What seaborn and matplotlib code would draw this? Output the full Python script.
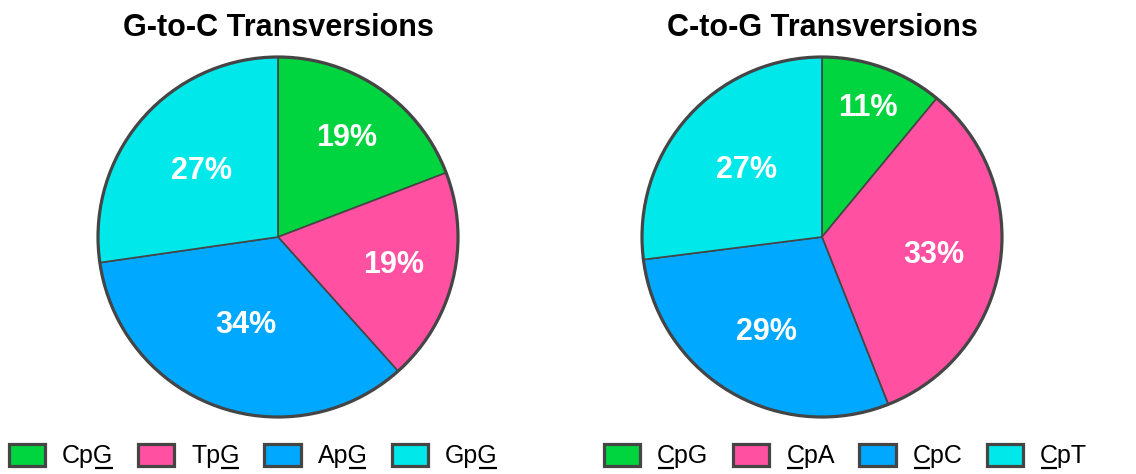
import numpy as np
import matplotlib
matplotlib.use("Agg")
import matplotlib.pyplot as plt
import seaborn as sns
from matplotlib.patches import Circle
from matplotlib.lines import Line2D

# Dinucleotide context shares (%) for each transversion class
g2c_labels = ["CpG", "TpG", "ApG", "GpG"]
g2c_values = [19, 19, 34, 27]
c2g_labels = ["CpG", "CpA", "CpC", "CpT"]
c2g_values = [11, 33, 29, 27]
# index of the mutated base in each label (drawn underlined)
g2c_mut_pos = 2
c2g_mut_pos = 0
titles = ["G-to-C Transversions", "C-to-G Transversions"]

colors = ["#00D43F", "#FF50A2", "#00A8FF", "#00E8EA"]
edge = "#454545"

sns.set_theme(style="white")
plt.rcParams["font.family"] = ["Liberation Sans", "DejaVu Sans"]
plt.rcParams["text.color"] = "black"

W, H = 1136, 474
fig = plt.figure(figsize=(W / 100, H / 100), dpi=100)

R = 180
centers = [(278, 237), (822, 237)]
label_r = [[0.67, 0.66, 0.52, 0.56], [0.76, 0.63, 0.61, 0.56]]
legend_left = [9, 604]
legends = []

sets = [(g2c_labels, g2c_values, g2c_mut_pos), (c2g_labels, c2g_values, c2g_mut_pos)]
for i, (labels, values, mpos) in enumerate(sets):
    cx, cy = centers[i]
    ax = fig.add_axes([(cx - R) / W, (H - cy - R) / H, 2 * R / W, 2 * R / H])
    wedges, _ = ax.pie(values, colors=colors, startangle=90, counterclock=False,
                       radius=1.0,
                       wedgeprops=dict(edgecolor=edge, linewidth=1.2))
    ax.add_patch(Circle((0, 0), 1.0, fill=False, edgecolor=edge, linewidth=2.3,
                        zorder=5, clip_on=False))
    for w, v, rf in zip(wedges, values, label_r[i]):
        mid = np.deg2rad((w.theta1 + w.theta2) / 2)
        ax.text(rf * np.cos(mid), rf * np.sin(mid), f"{v}%", ha="center", va="center",
                color="white", fontsize=22, fontweight="bold", zorder=6)
    ax.set_xlim(-1, 1)
    ax.set_ylim(-1, 1)
    ax.set_aspect("equal")
    ax.axis("off")

    fig.text(cx / W, 1 - 28 / H, titles[i], ha="center", va="center",
             fontsize=22, fontweight="bold", color="black")

    leg = fig.legend(wedges, labels, loc="center left",
                     bbox_to_anchor=(legend_left[i] / W, 1 - 456 / H),
                     ncol=4, frameon=False, fontsize=18, borderpad=0, borderaxespad=0,
                     handlelength=1.45, handleheight=1.0, handletextpad=0.68,
                     columnspacing=0.98)
    for p in leg.get_patches():
        p.set_linewidth(2.3)
        p.set_edgecolor(edge)
    legends.append((leg, mpos))

# underline the mutated base in each legend entry
fig.canvas.draw()
renderer = fig.canvas.get_renderer()
inv = fig.transFigure.inverted()
for leg, mpos in legends:
    for t in leg.get_texts():
        s = t.get_text()
        prop = t.get_fontproperties()
        bb = t.get_window_extent(renderer)
        _, _, d = renderer.get_text_width_height_descent(s, prop, ismath=False)
        base = bb.y0 + d
        x0 = bb.x0 + (renderer.get_text_width_height_descent(s[:mpos], prop, ismath=False)[0]
                      if mpos > 0 else 0)
        wch = renderer.get_text_width_height_descent(s[mpos], prop, ismath=False)[0]
        y = base - 5
        (fx0, fy), (fx1, _) = inv.transform([(x0 + 1, y), (x0 + wch - 1, y)])
        fig.add_artist(Line2D([fx0, fx1], [fy, fy], transform=fig.transFigure,
                              color="black", linewidth=1.6, solid_capstyle="butt"))

fig.savefig("out.png", dpi=100, facecolor="white")
